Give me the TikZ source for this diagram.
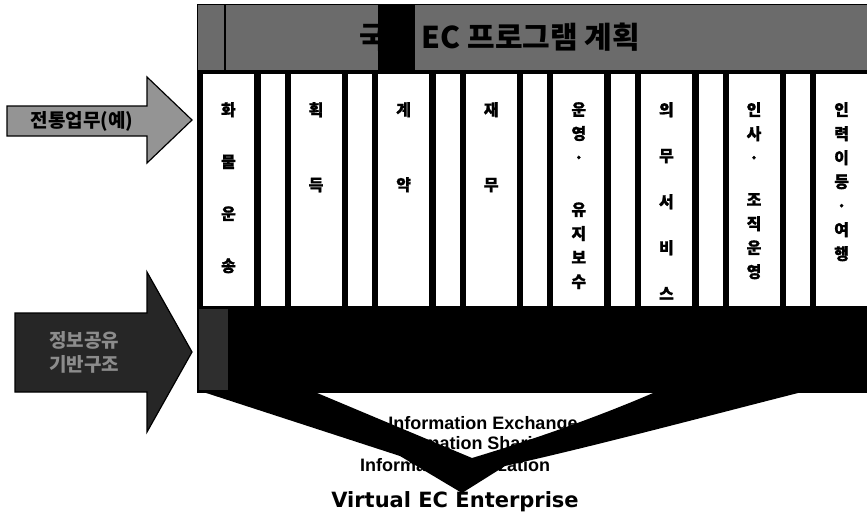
\documentclass[tikz,border=0pt]{standalone}
\usepackage{fontspec}
\setmainfont{Liberation Sans}
\newfontfamily\kr{Noto Sans CJK KR}
\newfontfamily\heavy{DejaVu Sans}
\usetikzlibrary{positioning}
\tikzset{
  panel/.style={fill=black!58, draw=black, line width=1pt, inner sep=0pt},
  widecol/.style={fill=white, draw=black, line width=0.8pt, inner sep=0pt,
    minimum width=52pt, minimum height=233pt, anchor=north west},
  narrowcol/.style={widecol, minimum width=25pt},
  coltext/.style={anchor=north, inner sep=0pt, align=center,
    font=\kr\bfseries\addfontfeature{FakeBold=1}\fontsize{16}{24}\selectfont},
  sidearrow/.style={draw=black, line width=1.2pt, line join=miter},
  sidetext/.style={inner sep=0pt, align=center, font=\kr\bfseries\fontsize{19}{24}\selectfont},
  infotext/.style={inner sep=0pt, font=\bfseries\fontsize{18}{18}\selectfont},
  enterprise/.style={inner sep=0pt, font=\heavy\bfseries\fontsize{21}{21}\selectfont}
}
\usepackage{xcolor}

\begin{document}
\begin{tikzpicture}[x=1pt,y=-1pt]
  \useasboundingbox (0,0) rectangle (867,528);
  % Info texts behind the V arrow
  \node[infotext] (exch) at (483,425) {Information Exchange};
  \node[infotext] (shar) at (469,445) {Information Sharing};
  \node[infotext] (util) at (455,465) {Information Utilization};
  \node[enterprise] (venter) at (455,502) {Virtual EC Enterprise};
  % V arrow
  \coordinate (vtip) at (462,493);
  \coordinate (vnotch) at (472,458);
  \fill[black] (197,390) -- (400,456) -- (vtip) -- (505,466)
    .. controls (600,445) and (730,410) .. (810,390)
    -- (660,390) .. controls (610,412) and (545,436) .. (vnotch) -- (310,390) -- cycle;
  % Column area
  \fill[black] (197,68) rectangle (867,310);
  \foreach \i in {0,...,7}
    \node[widecol] (col\i) at ({202+87.6*\i},73) {};
  \foreach \i in {0,...,6}
    \node[narrowcol] (gap\i) at ({259.5+87.6*\i},73) {};
  \node[coltext, below=29pt of col0.north] (t0) {화\\[28pt]물\\[28pt]운\\[28pt]송};
  \node[coltext, below=29pt of col1.north] (t1) {획\\[51pt]득};
  \node[coltext, below=29pt of col2.north] (t2) {계\\[51pt]약};
  \node[coltext, below=29pt of col3.north] (t3) {재\\[51pt]무};
  \node[coltext, below=29pt of col4.north] (t4) {운\\영\\·\\[28pt]유\\지\\보\\수};
  \node[coltext, below=29pt of col5.north] (t5) {의\\[22pt]무\\[22pt]서\\[22pt]비\\[22pt]스};
  \node[coltext, below=29pt of col6.north] (t6) {인\\사\\·\\[18pt]조\\직\\운\\영};
  \node[coltext, below=29pt of col7.north] (t7) {인\\력\\이\\등\\·\\여\\행};
  % Top band with title
  \node[panel, minimum width=670pt, minimum height=66pt, anchor=north west] (band) at (197,4) {};
  \fill[black] (378,4) rectangle (415,70);
  \draw[black, line width=2pt] (225,4) -- (225,70);
  \node[font=\kr\bfseries\fontsize{30}{30}\selectfont, text=black] (title) at (500,37) {국방 EC 프로그램 계획};
  % Bottom band
  \node[fill=black, inner sep=0pt, minimum width=670pt, minimum height=86pt, anchor=north west] (base) at (197,307) {};
  \fill[black!82] (199,309) rectangle (228,390);
  % Side arrows
  \draw[sidearrow, fill=black!42] (7,106) -- (147,106) -- (147,77) -- (192,120)
    -- (147,163) -- (147,136) -- (7,136) -- cycle;
  \node[sidetext] (trad) at (82,121) {전통업무(예)};
  \draw[sidearrow, fill=black!85] (15,313) -- (147,313) -- (147,272) -- (192,352)
    -- (147,432) -- (147,392) -- (15,392) -- cycle;
  \node[sidetext, text=black!45] (infra) at (84,352) {정보공유\\기반구조};
\end{tikzpicture}
\end{document}
